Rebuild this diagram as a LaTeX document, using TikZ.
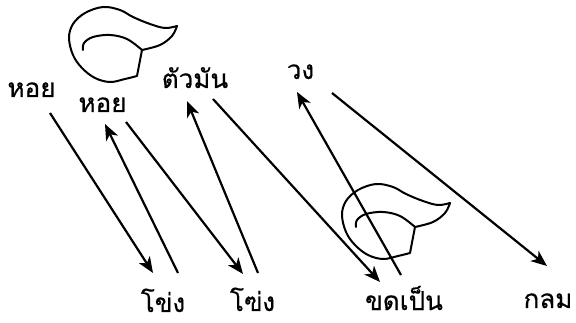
\documentclass[tikz,border=0pt]{standalone}
\usepackage{fontspec}
\newfontfamily\thaifont[Script=Thai,FakeBold=0.5]{Loma}
\usetikzlibrary{arrows.meta}
\tikzset{
  lbl/.style={anchor=base, inner sep=0pt, text depth=0pt, font=\thaifont\fontsize{26}{30}\selectfont},
  arr/.style={line width=2.2pt, -{Stealth[length=16pt, width=13pt, inset=4.5pt]}},
  shellline/.style={line width=2pt, line join=round, line cap=round},
  shell/.pic={
    \draw[shellline] plot[smooth, tension=0.6] coordinates {(0,0) (18,5) (30,14) (35,24)};
    \draw[shellline] plot[smooth, tension=0.6] coordinates {(35,24) (23,22) (8,26) (-9,33) (-22,40) (-39,43) (-57,37) (-69,26) (-73,12) (-69,-5) (-60,-18) (-47,-28) (-32,-32) (-17,-29) (-5,-26)} -- (0,0);
    \draw[shellline] plot[smooth, tension=0.6] coordinates {(-59,0) (-58,7) (-49,13) (-32,15) (-15,11) (0,0)};
  }
}
\begin{document}
\begin{tikzpicture}[x=1pt,y=1pt]
\useasboundingbox (0,0) rectangle (576,-323);
% shells
\pic (shellA) at (142,-50) {shell};
\pic (shellB) at (415,-227) {shell};
% labels
\node[lbl] (hoi1) at (31.5,-97) {หอย};
\node[lbl] (hoi2) at (102.5,-112) {หอย};
\node[lbl] (tuaman) at (195,-88) {ตัวมัน};
\node[lbl] (wong) at (300.5,-79) {วง};
\node[lbl] (khong1) at (163,-312) {โข่ง};
\node[lbl] (khong2) at (252.5,-311) {โฃ่ง};
\node[lbl] (khodpen) at (404,-310) {ขดเป็น};
\node[lbl] (klom) at (548,-308) {กลม};
% arrow end points
\coordinate (a1s) at (50,-113);  \coordinate (a1e) at (153,-273);
\coordinate (a2s) at (178,-273); \coordinate (a2e) at (105,-124);
\coordinate (a3s) at (126,-122); \coordinate (a3e) at (243,-274);
\coordinate (a4s) at (258,-273); \coordinate (a4e) at (187,-101);
\coordinate (a5s) at (213,-99);  \coordinate (a5e) at (380,-282);
\coordinate (a6s) at (401,-275); \coordinate (a6e) at (297,-92);
\coordinate (a7s) at (332,-93);  \coordinate (a7e) at (547,-266);
\draw[arr] (a1s) -- (a1e);
\draw[arr] (a2s) -- (a2e);
\draw[arr] (a3s) -- (a3e);
\draw[arr] (a4s) -- (a4e);
\draw[arr] (a5s) -- (a5e);
\draw[arr] (a6s) -- (a6e);
\draw[arr] (a7s) -- (a7e);
\end{tikzpicture}
\end{document}
